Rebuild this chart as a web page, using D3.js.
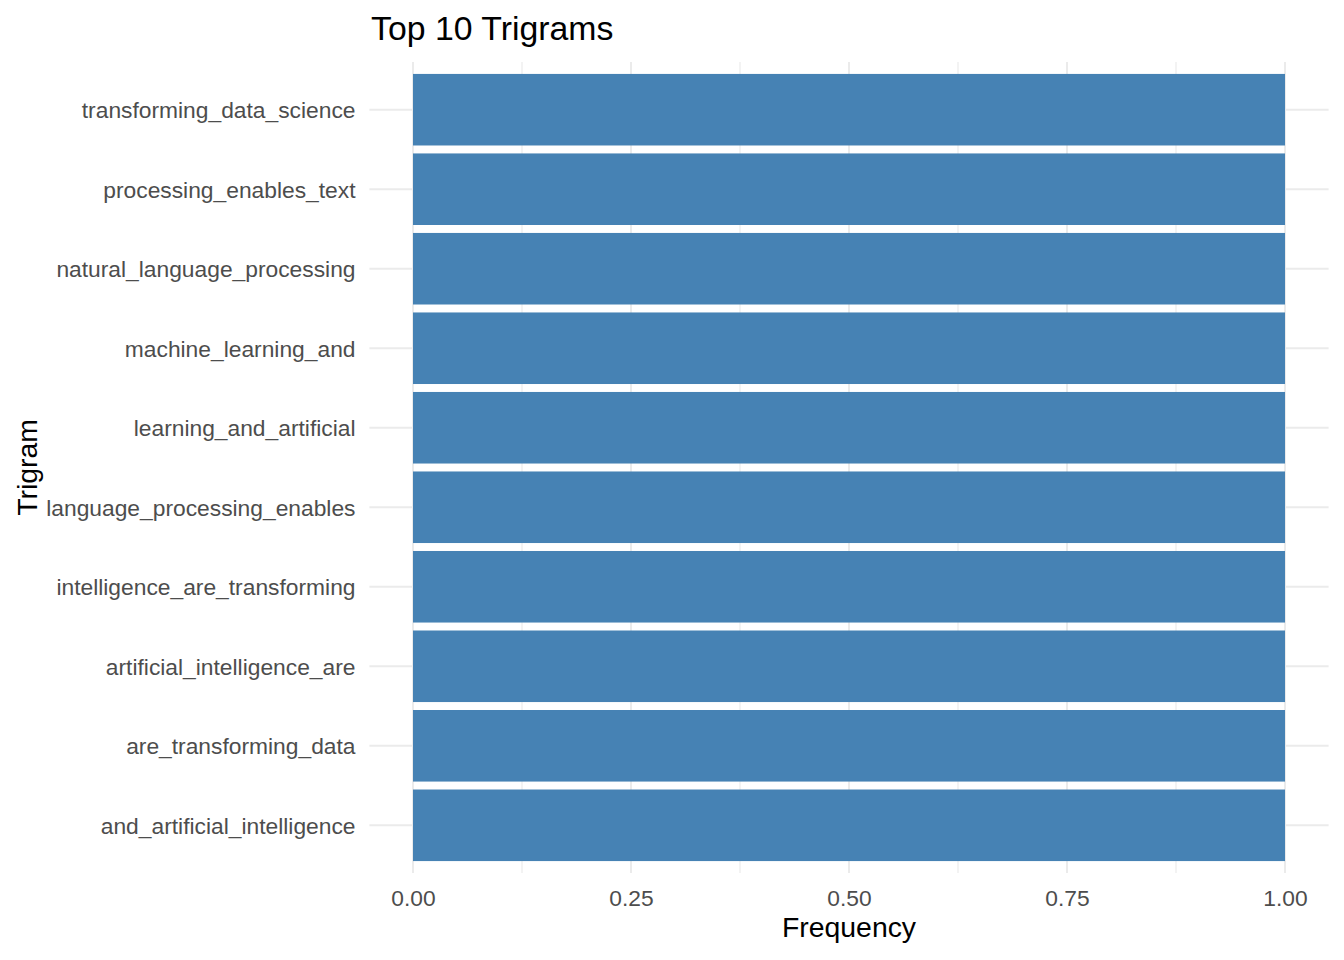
<!DOCTYPE html>
<html>
<head>
<meta charset="utf-8">
<script src="https://cdn.jsdelivr.net/npm/d3@7"></script>
<style>
  html, body { margin: 0; padding: 0; background: #fff; }
  svg { display: block; font-family: "Liberation Sans", Arial, sans-serif; }
</style>
</head>
<body>
<svg id="chart" width="1344" height="960"></svg>
<script>
const categories = [
  "transforming_data_science",
  "processing_enables_text",
  "natural_language_processing",
  "machine_learning_and",
  "learning_and_artificial",
  "language_processing_enables",
  "intelligence_are_transforming",
  "artificial_intelligence_are",
  "are_transforming_data",
  "and_artificial_intelligence"
];
const frequencies = [1, 1, 1, 1, 1, 1, 1, 1, 1, 1];
const xTicks = [0, 0.25, 0.5, 0.75, 1];
const xTickLabels = ["0.00", "0.25", "0.50", "0.75", "1.00"];
const xMinorTicks = [0.125, 0.375, 0.625, 0.875];
const titleText = "Top 10 Trigrams";
const xTitle = "Frequency";
const yTitle = "Trigram";

const svg = d3.select("#chart");
const panel = { left: 369.4, right: 1328.6, top: 62, bottom: 873 };

const x = d3.scaleLinear().domain([-0.05, 1.05]).range([panel.left, panel.right]);
const y = d3.scaleBand().domain(categories).range([panel.top, panel.bottom])
  .paddingInner(0.1).paddingOuter(0.15);

// minor gridlines
svg.append("g").selectAll("line").data(xMinorTicks).join("line")
  .attr("x1", d => x(d)).attr("x2", d => x(d))
  .attr("y1", panel.top).attr("y2", panel.bottom)
  .attr("stroke", "#EBEBEB").attr("stroke-width", 1.2);

// major gridlines
svg.append("g").selectAll("line").data(xTicks).join("line")
  .attr("x1", d => x(d)).attr("x2", d => x(d))
  .attr("y1", panel.top).attr("y2", panel.bottom)
  .attr("stroke", "#EBEBEB").attr("stroke-width", 2);
svg.append("g").selectAll("line").data(categories).join("line")
  .attr("x1", panel.left).attr("x2", panel.right)
  .attr("y1", d => y(d) + y.bandwidth() / 2).attr("y2", d => y(d) + y.bandwidth() / 2)
  .attr("stroke", "#EBEBEB").attr("stroke-width", 2);

// bars
svg.append("g").selectAll("rect").data(categories).join("rect")
  .attr("x", x(0))
  .attr("y", d => y(d))
  .attr("width", (d, i) => x(frequencies[i]) - x(0))
  .attr("height", y.bandwidth())
  .attr("fill", "#4682B4");

// x axis
const xAxis = d3.axisBottom(x).tickValues(xTicks)
  .tickFormat((d, i) => xTickLabels[i]).tickSize(0).tickPadding(0);
const gx = svg.append("g").attr("transform", `translate(0,${panel.bottom})`).call(xAxis);
gx.select(".domain").remove();
gx.selectAll("text").attr("dy", null).attr("y", 33)
  .attr("font-size", 22.8).attr("fill", "#4D4D4D")
  .attr("font-family", "Liberation Sans, Arial, sans-serif");

// y axis
const yAxis = d3.axisLeft(y).tickSize(0).tickPadding(0);
const gy = svg.append("g").attr("transform", `translate(355.5,0)`).call(yAxis);
gy.select(".domain").remove();
gy.selectAll("text").attr("x", 0).attr("dy", "0.37em")
  .attr("font-size", 22.8).attr("fill", "#4D4D4D")
  .attr("font-family", "Liberation Sans, Arial, sans-serif");

// titles
svg.append("text").attr("x", 371).attr("y", 39.5)
  .attr("font-size", 33.8).attr("fill", "#000").text(titleText);
svg.append("text").attr("x", (panel.left + panel.right) / 2).attr("y", 937.3)
  .attr("text-anchor", "middle").attr("font-size", 28.4).attr("fill", "#000").text(xTitle);
svg.append("text")
  .attr("transform", `translate(36.5,${(panel.top + panel.bottom) / 2}) rotate(-90)`)
  .attr("text-anchor", "middle").attr("font-size", 28.4).attr("fill", "#000").text(yTitle);
</script>
</body>
</html>
